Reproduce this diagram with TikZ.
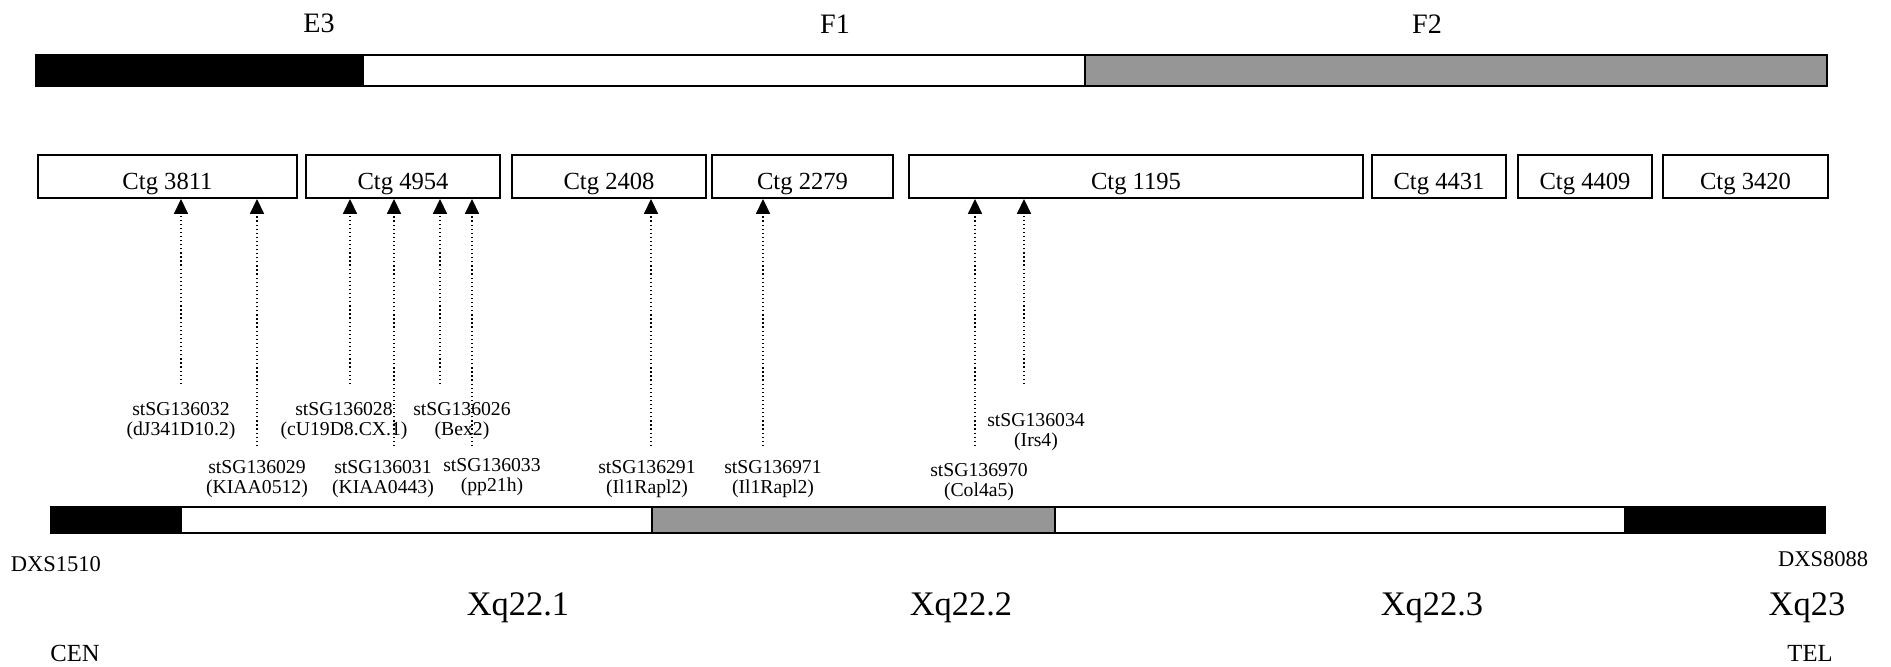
\documentclass[tikz,border=0pt]{standalone}
\usepackage{fontspec}
\setmainfont{Liberation Serif}
\usetikzlibrary{arrows.meta, positioning}
\definecolor{cgrey}{HTML}{969696}
\tikzset{
  every picture/.style={line width=1.4pt},
  band/.style={draw=black, fill=#1},
  band/.default=white,
  ctg/.style={draw, rectangle, minimum height=1.075cm, inner sep=0pt, text height=17.8pt, text depth=0pt, font=\fontsize{17.5}{20}\selectfont},
  marker/.style={dotted, line width=0.9pt, -{Triangle[length=0.37cm, width=0.35cm]}},
  sts/.style={font=\fontsize{14}{13.9}\selectfont, align=center, inner sep=0pt},
  bandlabel/.style={font=\fontsize{20}{24}\selectfont},
  region/.style={font=\fontsize{24.5}{28}\selectfont},
  dxs/.style={font=\fontsize{16}{19}\selectfont},
  note/.style={font=\fontsize{17.5}{20}\selectfont},
}
\begin{document}
\begin{tikzpicture}[x=0.025cm, y=-0.025cm]
  \useasboundingbox (0,0) rectangle (1891,666);
  % fragments E3, F1, F2
  \foreach \xa/\xb/\c in {36/363/black, 363/1085/white, 1085/1827/cgrey}
    \draw[band=\c] (\xa,55) rectangle (\xb,86);
  \node[bandlabel] (e3) at (319,23) {E3};
  \node[bandlabel] (f1) at (835,24) {F1};
  \node[bandlabel] (f2) at (1427,24) {F2};
  % contigs
  \foreach \n/\xa/\xb in {3811/38/297, 4954/306/500, 2408/512/706, 2279/712/893, 1195/909/1363, 4431/1372/1506, 4409/1518/1652, 3420/1663/1828}
    \node[ctg, minimum width={(\xb-\xa)*0.025cm}] (c\n) at ({(\xa+\xb)/2},176.5) {Ctg \n};
  % STS markers up to their contig
  \foreach \i/\x/\y/\n in {1/181/384/3811, 2/257/446/3811, 3/350/384/4954, 4/394/446/4954, 5/440/384/4954, 6/472/446/4954, 7/651/446/2408, 8/763/446/2279, 9/975/446/1195, 10/1024/384/1195} {
    \coordinate (m\i) at (\x,\y);
    \draw[marker] (m\i) -- (m\i |- c\n.south);
  }
  \node[sts] (s1) at (181,421) {stSG136032\\(dJ341D10.2)};
  \node[sts] (s2) at (257,479) {stSG136029\\(KIAA0512)};
  \node[sts] (s3) at (344,421) {stSG136028\\(cU19D8.CX.1)};
  \node[sts] (s4) at (383,479) {stSG136031\\(KIAA0443)};
  \node[sts] (s5) at (462,421) {stSG136026\\(Bex2)};
  \node[sts] (s6) at (492,477) {stSG136033\\(pp21h)};
  \node[sts] (s7) at (647,479) {stSG136291\\(Il1Rapl2)};
  \node[sts] (s8) at (773,479) {stSG136971\\(Il1Rapl2)};
  \node[sts] (s9) at (979,482) {stSG136970\\(Col4a5)};
  \node[sts] (s10) at (1036,432) {stSG136034\\(Irs4)};
  % chromosome bands
  \foreach \xa/\xb/\c in {51/181/black, 181/652/white, 652/1055/cgrey, 1055/1625/white, 1625/1825/black}
    \draw[band=\c] (\xa,507) rectangle (\xb,533);
  \node[dxs] (dxs1510) at (56,564) {DXS1510};
  \node[dxs] (dxs8088) at (1823,559) {DXS8088};
  \node[region] (q221) at (518,608) {Xq22.1};
  \node[region] (q222) at (961,608) {Xq22.2};
  \node[region] (q223) at (1432,608) {Xq22.3};
  \node[region] (q23) at (1807,608) {Xq23};
  \node[note] (cen) at (75,653) {CEN};
  \node[note] (tel) at (1810,653) {TEL};
\end{tikzpicture}
\end{document}
